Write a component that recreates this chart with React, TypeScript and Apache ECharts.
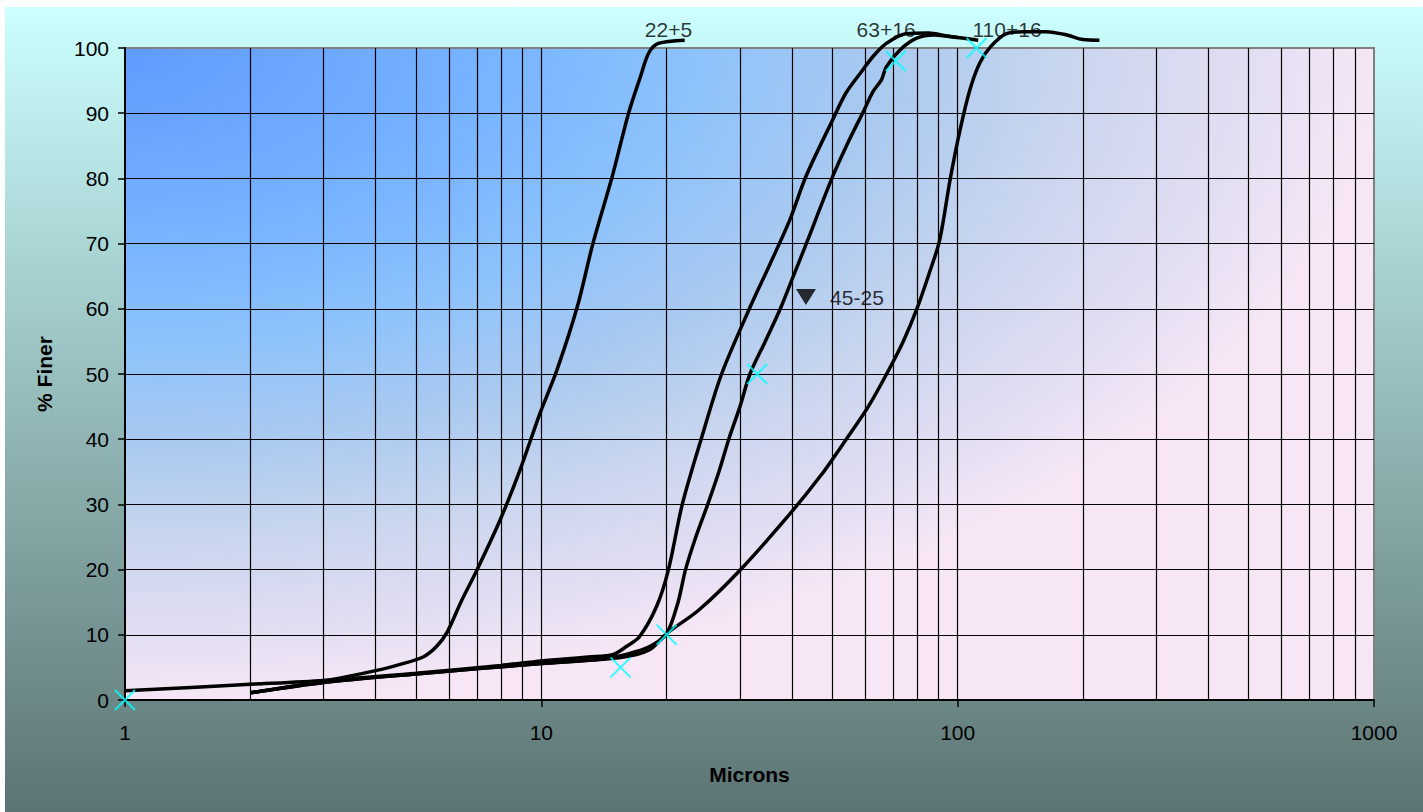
import React, { useEffect, useRef } from "react";
import * as echarts from "echarts";

// Particle size distribution curves (% finer vs microns)
const c22x = [2, 3, 4, 4.6, 5.2, 5.6, 5.95, 6.44, 7, 7.96, 8.89, 9.93, 10.9, 12.2, 13.3, 14.8, 16.2, 17.3, 18.1, 19.1, 22.1];
const c22y = [1.1, 2.9, 4.5, 5.5, 6.6, 8.2, 10.5, 15.3, 19.9, 27.6, 35.3, 44, 50.6, 60.3, 70, 80.3, 90, 95.6, 99.2, 100.7, 101.2];

const c63x = [1, 2, 3, 5, 8, 10, 13, 14.9, 16, 17.2, 18.9, 20.2, 21.8, 24.2, 27.1, 31.6, 35.5, 39.5, 43.2, 50.1, 53.9, 59.1, 62.6, 67.4, 75, 85, 95, 112];
const c63y = [1.4, 2.4, 3.0, 4.1, 5.3, 6.0, 6.6, 7.0, 8.2, 9.7, 14.3, 20, 30, 40, 50, 60, 67, 73.6, 80.3, 89, 93.1, 96.6, 98.7, 100.7, 102.2, 102.3, 101.8, 101.2];

const c45x = [2, 3, 5, 10, 14, 16, 18.2, 20, 21.3, 22.2, 23.5, 25.1, 26.7, 28.2, 30, 31.7, 34.5, 37.5, 40.3, 43.3, 50.1, 55, 59.1, 62.6, 65.6, 67.4, 72.7, 79.7, 87.6, 100];
const c45y = [1.1, 2.7, 4.0, 5.6, 6.3, 7.0, 8.2, 10.2, 15, 20, 25, 30, 35, 40, 45, 50, 55, 60, 65, 70, 80.3, 86, 90, 93.3, 95.1, 97.1, 99.7, 101.5, 102, 101.6];

const c110x = [2, 3, 5, 10, 15.5, 18.2, 20, 23.9, 30, 39.6, 47, 54, 61, 67.5, 74, 79.8, 85.5, 90.5, 95.9, 101.3, 107, 113, 120, 131, 146, 163, 183, 200, 219];
const c110y = [1.1, 2.7, 4.0, 5.6, 6.5, 7.7, 10.2, 13.8, 19.9, 28.6, 34.5, 40, 45, 50, 55, 60, 65.5, 70.5, 79.8, 87.4, 93.6, 97.7, 100.2, 102.2, 102.5, 102.5, 102, 101.3, 101.2];

// Specification points (cyan crosses)
const specX = [1, 15.5, 20, 33, 71, 111];
const specY = [0, 5, 10, 50, 98, 100];

// Curve labels
const labelNames = ["22+5", "63+16", "110+16", "45-25"];
const labelX = [20.2, 67.3, 131.4, 57.3];
const labelY = [102.9, 102.9, 102.9, 61.7];

// Triangle marker
const triX = [43.2];
const triY = [61.8];

// Grid lines
const minorX = [2, 3, 4, 5, 6, 7, 8, 9, 10, 20, 30, 40, 50, 60, 70, 80, 90, 100, 200, 300, 400, 500, 600, 700, 800, 900];
const gridY = [10, 20, 30, 40, 50, 60, 70, 80, 90];

const FONT = "'Liberation Sans', Arial, sans-serif";
const FS = 21;

const zip = (xs: number[], ys: number[]) => xs.map((x, i) => [x, ys[i]]);

export default function App() {
  const ref = useRef<HTMLDivElement>(null);
  useEffect(() => {
    if (!ref.current) return;
    const chart = echarts.init(ref.current, null, { renderer: "svg" });
    const curve = (name: string, xs: number[], ys: number[]) => ({
      name,
      type: "line",
      data: zip(xs, ys),
      smooth: 0.3,
      showSymbol: false,
      symbol: "none",
      clip: false,
      z: 5,
      lineStyle: { color: "#000", width: 3.5 },
    });
    chart.setOption({
      animation: false,
      backgroundColor: {
        type: "linear",
        x: 0, y: 0, x2: 0, y2: 1,
        colorStops: [
          { offset: 0, color: "#CCFFFF" },
          { offset: 1, color: "#5C7473" },
        ],
      },
      graphic: [
        {
          type: "rect",
          z: -10,
          shape: { x: 120, y: 41, width: 1249, height: 652 },
          style: {
            fill: {
              type: "radial",
              x: 0, y: 0, r: 1,
              colorStops: [
                { offset: 0, color: "#5E9BFF" },
                { offset: 0.3, color: "#78B4FF" },
                { offset: 0.45, color: "#8CC2FC" },
                { offset: 0.6, color: "#A8C9F0" },
                { offset: 0.75, color: "#C8D5EE" },
                { offset: 0.9, color: "#E2DEF2" },
                { offset: 1, color: "#F6E6F6" },
              ],
            },
          },
        },
      ],
      grid: {
        left: 120,
        top: 41,
        width: 1249,
        height: 652,
        show: true,
        backgroundColor: "transparent",
        borderColor: "#808080",
        borderWidth: 2,
      },
      xAxis: {
        type: "log",
        logBase: 10,
        min: 1,
        max: 1000,
        name: "Microns",
        nameLocation: "middle",
        nameGap: 64,
        nameTextStyle: { color: "#000", fontSize: FS, fontWeight: "bold", fontFamily: FONT },
        axisLine: { show: true, lineStyle: { color: "#000", width: 2 } },
        axisTick: { show: true, length: 7, lineStyle: { color: "#000", width: 1.5 } },
        axisLabel: {
          color: "#000",
          fontSize: FS,
          fontFamily: FONT,
          margin: 22,
          formatter: (v: number) => String(Math.round(v)),
        },
        splitLine: { show: false },
        minorTick: { show: false },
      },
      yAxis: {
        type: "value",
        min: 0,
        max: 100,
        interval: 10,
        name: "% Finer",
        nameLocation: "middle",
        nameGap: 70,
        nameRotate: 90,
        nameTextStyle: { color: "#000", fontSize: FS, fontWeight: "bold", fontFamily: FONT },
        axisLine: { show: true, lineStyle: { color: "#000", width: 2 } },
        axisTick: { show: true, length: 7, lineStyle: { color: "#000", width: 1.5 } },
        axisLabel: { color: "#000", fontSize: FS, fontFamily: FONT, margin: 16 },
        splitLine: { show: false },
      },
      series: [
        {
          name: "grid",
          type: "line",
          data: [[1, 0]],
          symbol: "none",
          lineStyle: { width: 0 },
          z: 1,
          silent: true,
          markLine: {
            silent: true,
            symbol: ["none", "none"],
            label: { show: false },
            lineStyle: { color: "#000", width: 1.2, type: "solid" },
            data: [
              ...minorX.map((v) => ({ xAxis: v })),
              ...gridY.map((v) => ({ yAxis: v })),
            ],
          },
        },
        curve("22+5", c22x, c22y),
        curve("63+16", c63x, c63y),
        curve("45-25", c45x, c45y),
        curve("110+16", c110x, c110y),
        {
          name: "spec",
          type: "scatter",
          data: zip(specX, specY),
          symbol: "path://M0,0L10,10M10,0L0,10",
          symbolSize: 20,
          clip: false,
          z: 8,
          itemStyle: { color: "#00FFFF", borderColor: "#00FFFF", borderWidth: 2 },
        },
        {
          name: "marker",
          type: "scatter",
          data: zip(triX, triY),
          symbol: "triangle",
          symbolRotate: 180,
          symbolSize: [20, 16],
          z: 8,
          itemStyle: { color: "#000" },
        },
        {
          name: "labels",
          type: "scatter",
          data: labelNames.map((n, i) => ({ name: n, value: [labelX[i], labelY[i]] })),
          symbolSize: 0.1,
          clip: false,
          z: 6,
          itemStyle: { color: "transparent" },
          label: {
            show: true,
            position: "inside",
            formatter: "{b}",
            color: "#000",
            fontSize: FS,
            fontFamily: FONT,
          },
        },
      ],
    });
    return () => chart.dispose();
  }, []);
  return (
    <div
      ref={ref}
      style={{ position: "fixed", left: 5, top: 7, width: 1418, height: 805 }}
    />
  );
}
